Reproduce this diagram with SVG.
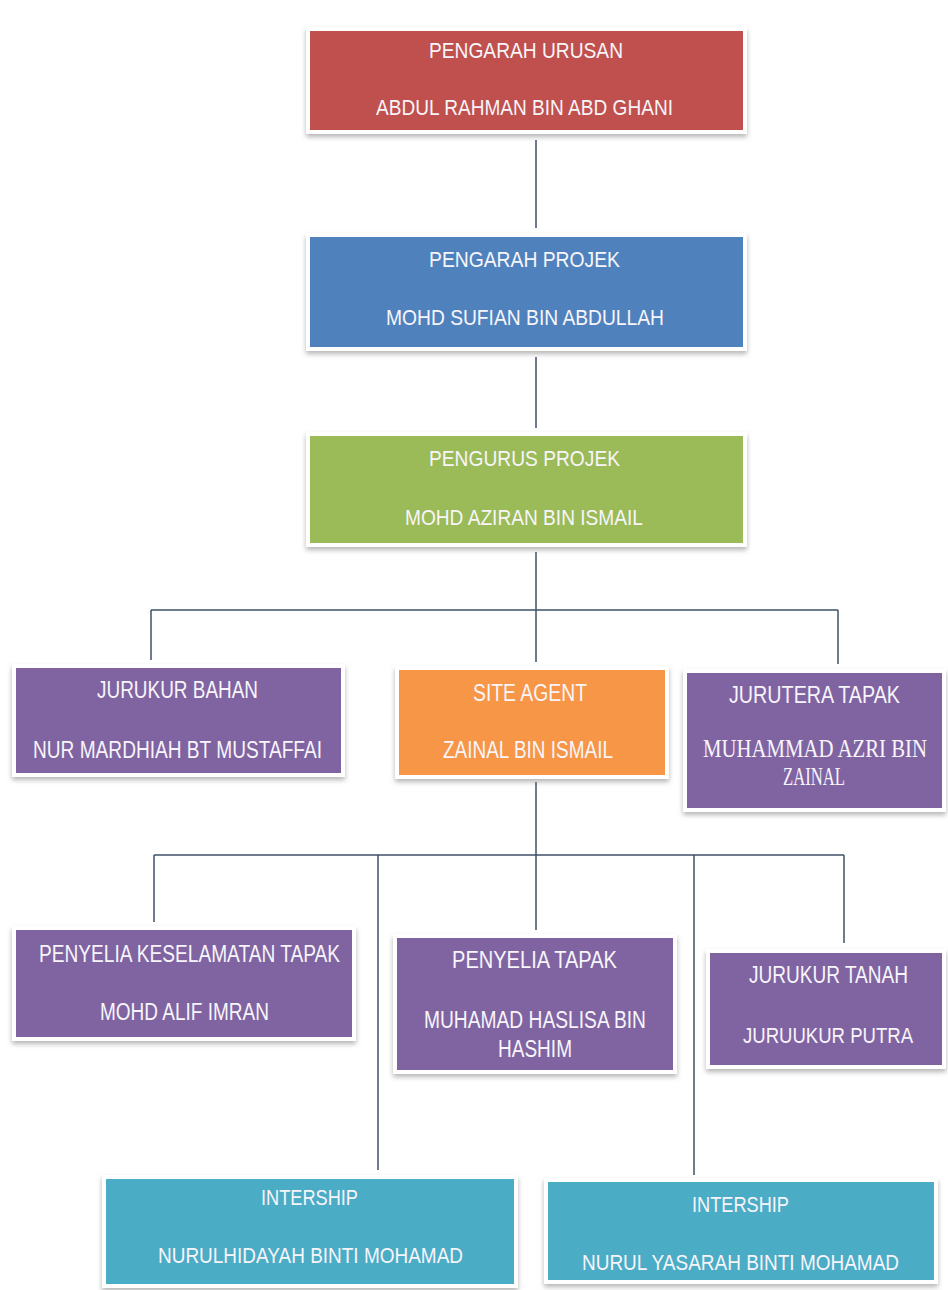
<svg xmlns="http://www.w3.org/2000/svg" width="948" height="1290" viewBox="0 0 948 1290">
<defs>
<filter id="sh" x="-10%" y="-20%" width="120%" height="150%">
<feDropShadow dx="0" dy="3" stdDeviation="2.5" flood-color="#7a7a7a" flood-opacity="0.55"/>
</filter>
<style>
.rim{fill:#ffffff;filter:url(#sh)}
.t{font-family:"Liberation Sans Narrow","Liberation Sans",Arial,sans-serif;fill:#f7f5fa;text-anchor:middle}
.s{font-family:"Liberation Serif","Times New Roman",serif;fill:#f7f5fa;text-anchor:middle}
.red{fill:#c0504d}.blue{fill:#4f81bd}.green{fill:#9bbb59}.purple{fill:#8064a2}.orange{fill:#f79646}.teal{fill:#4bacc6}
.c{fill:none;stroke:#3e5068;stroke-width:1.5}
</style>
</defs>
<rect width="948" height="1290" fill="#ffffff"/>
<g id="connectors" class="c">
<path d="M536 140V228"/>
<path d="M536 357V428"/>
<path d="M536 552V610"/>
<path d="M151 610H838"/>
<path d="M151 610V660"/>
<path d="M536 610V662"/>
<path d="M838 610V664"/>
<path d="M536 782V855"/>
<path d="M154 855H844"/>
<path d="M154 855V922"/>
<path d="M378 855V1170"/>
<path d="M536 855V930"/>
<path d="M694 855V1175"/>
<path d="M844 855V943"/>
</g>
<g id="pengarah-urusan">
<rect class="rim" x="306" y="27" width="441" height="107"/>
<rect class="red" x="310" y="31" width="433" height="99"/>
<text class="t" x="526" y="58" font-size="22" textLength="194" lengthAdjust="spacingAndGlyphs">PENGARAH URUSAN</text>
<text class="t" x="524.5" y="115" font-size="22" textLength="297" lengthAdjust="spacingAndGlyphs">ABDUL RAHMAN BIN ABD GHANI</text>
</g>
<g id="pengarah-projek">
<rect class="rim" x="306" y="233" width="441" height="118"/>
<rect class="blue" x="310" y="237" width="433" height="110"/>
<text class="t" x="524.5" y="267" font-size="22" textLength="191" lengthAdjust="spacingAndGlyphs">PENGARAH PROJEK</text>
<text class="t" x="525" y="325" font-size="22" textLength="278" lengthAdjust="spacingAndGlyphs">MOHD SUFIAN BIN ABDULLAH</text>
</g>
<g id="pengurus-projek">
<rect class="rim" x="306" y="432" width="441" height="115"/>
<rect class="green" x="310" y="436" width="433" height="107"/>
<text class="t" x="524.5" y="466" font-size="22" textLength="191" lengthAdjust="spacingAndGlyphs">PENGURUS PROJEK</text>
<text class="t" x="524" y="525" font-size="22" textLength="238" lengthAdjust="spacingAndGlyphs">MOHD AZIRAN BIN ISMAIL</text>
</g>
<g id="jurukur-bahan">
<rect class="rim" x="12" y="664" width="333" height="113"/>
<rect class="purple" x="16" y="668" width="325" height="105"/>
<text class="t" x="177.5" y="698" font-size="23" textLength="161" lengthAdjust="spacingAndGlyphs">JURUKUR BAHAN</text>
<text class="t" x="177.5" y="758" font-size="23" textLength="289" lengthAdjust="spacingAndGlyphs">NUR MARDHIAH BT MUSTAFFAI</text>
</g>
<g id="site-agent">
<rect class="rim" x="395" y="666" width="274" height="113"/>
<rect class="orange" x="399" y="670" width="266" height="105"/>
<text class="t" x="530" y="701" font-size="23" textLength="114" lengthAdjust="spacingAndGlyphs">SITE AGENT</text>
<text class="t" x="528" y="758" font-size="23" textLength="170" lengthAdjust="spacingAndGlyphs">ZAINAL BIN ISMAIL</text>
</g>
<g id="jurutera-tapak">
<rect class="rim" x="683" y="669" width="263" height="143"/>
<rect class="purple" x="687" y="673" width="255" height="135"/>
<text class="t" x="814.5" y="703" font-size="23" textLength="171" lengthAdjust="spacingAndGlyphs">JURUTERA TAPAK</text>
<g transform="translate(815 757) scale(1 1.25)">
<text class="s" x="0" y="0" font-size="20" textLength="224" lengthAdjust="spacingAndGlyphs">MUHAMMAD AZRI BIN</text>
</g>
<g transform="translate(814 785) scale(1 1.25)">
<text class="s" x="0" y="0" font-size="20" textLength="62" lengthAdjust="spacingAndGlyphs">ZAINAL</text>
</g>
</g>
<g id="penyelia-keselamatan-tapak">
<rect class="rim" x="12" y="926" width="344" height="115"/>
<rect class="purple" x="16" y="930" width="336" height="107"/>
<text class="t" x="189.5" y="962" font-size="23" textLength="301" lengthAdjust="spacingAndGlyphs">PENYELIA KESELAMATAN TAPAK</text>
<text class="t" x="184.5" y="1020" font-size="23" textLength="169" lengthAdjust="spacingAndGlyphs">MOHD ALIF IMRAN</text>
</g>
<g id="penyelia-tapak">
<rect class="rim" x="393" y="934" width="284" height="140"/>
<rect class="purple" x="397" y="938" width="276" height="132"/>
<text class="t" x="534.5" y="968" font-size="23" textLength="165" lengthAdjust="spacingAndGlyphs">PENYELIA TAPAK</text>
<text class="t" x="535" y="1028" font-size="23" textLength="222" lengthAdjust="spacingAndGlyphs">MUHAMAD HASLISA BIN</text>
<text class="t" x="535" y="1057" font-size="23" textLength="74" lengthAdjust="spacingAndGlyphs">HASHIM</text>
</g>
<g id="jurukur-tanah">
<rect class="rim" x="706" y="949" width="240" height="120"/>
<rect class="purple" x="710" y="953" width="232" height="112"/>
<text class="t" x="828.5" y="983" font-size="23" textLength="159" lengthAdjust="spacingAndGlyphs">JURUKUR TANAH</text>
<g transform="translate(828 1043) scale(1 1.2)">
<text class="t" x="0" y="0" font-size="19" textLength="170" lengthAdjust="spacingAndGlyphs">JURUUKUR PUTRA</text>
</g>
</g>
<g id="intership-1">
<rect class="rim" x="102" y="1175" width="416" height="113"/>
<rect class="teal" x="106" y="1179" width="408" height="105"/>
<text class="t" x="309.5" y="1205" font-size="22" textLength="97" lengthAdjust="spacingAndGlyphs">INTERSHIP</text>
<text class="t" x="310.5" y="1263" font-size="22" textLength="305" lengthAdjust="spacingAndGlyphs">NURULHIDAYAH BINTI MOHAMAD</text>
</g>
<g id="intership-2">
<rect class="rim" x="544" y="1178" width="394" height="106"/>
<rect class="teal" x="548" y="1182" width="386" height="98"/>
<text class="t" x="740.5" y="1212" font-size="22" textLength="97" lengthAdjust="spacingAndGlyphs">INTERSHIP</text>
<text class="t" x="740.5" y="1270" font-size="22" textLength="317" lengthAdjust="spacingAndGlyphs">NURUL YASARAH BINTI MOHAMAD</text>
</g>
</svg>
